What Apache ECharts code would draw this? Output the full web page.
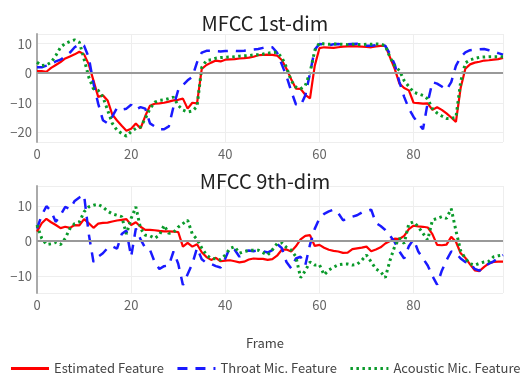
<!DOCTYPE html>
<html>
<head>
<meta charset="utf-8">
<script src="https://cdn.jsdelivr.net/npm/echarts@6/dist/echarts.min.js"></script>
<style>
html,body{margin:0;padding:0;background:#fff;}
#container{width:530px;height:379px;}
</style>
</head>
<body>
<div id="container"></div>
<script>
// MFCC 1st-dim (top panel)
var est1=[0.7,0.7,0.5,1.8,2.8,3.8,5.0,5.7,6.4,7.3,
  6.4,3.0,-2.5,-8.0,-7.5,-9.2,-14.0,-16.0,-17.8,-19.5,
  -18.8,-17.0,-18.7,-14.5,-11.0,-10.3,-10.2,-10.0,-9.6,-9.2,
  -9.0,-8.6,-12.0,-10.0,-10.2,1.5,2.8,3.6,4.3,4.0,
  4.6,4.7,4.8,5.0,5.1,5.3,5.6,6.1,6.2,6.3,
  6.2,6.0,4.5,1.5,-2.0,-5.2,-5.3,-7.3,-8.5,2.5,
  8.5,8.8,8.7,8.6,8.8,9.0,9.1,9.2,9.1,9.0,
  8.9,8.8,9.1,9.3,9.3,5.4,1.5,-3.5,-5.0,-5.8,
  -10.0,-10.1,-10.3,-10.2,-12.4,-11.5,-12.4,-13.6,-15.0,-16.5,
  -5.0,1.5,3.0,3.6,3.9,4.3,4.4,4.6,4.8,5.2];
var thr1=[2.0,2.0,2.6,3.3,4.0,4.6,5.8,7.0,8.8,9.8,
  9.3,5.4,-3.5,-10.3,-15.9,-17.0,-14.6,-11.8,-12.3,-12.0,
  -10.7,-12.3,-11.5,-12.0,-17.0,-18.0,-19.0,-19.0,-18.0,-11.3,
  -5.7,-4.0,-2.4,-1.2,3.7,7.0,7.6,7.6,7.5,7.4,
  7.5,7.6,7.6,7.5,7.6,7.8,8.0,8.2,8.6,9.0,
  8.8,7.0,3.0,-1.0,-6.0,-10.5,-11.0,-7.5,0.0,8.0,
  9.9,9.7,9.5,9.8,9.9,9.7,9.8,9.9,10.0,9.7,
  9.3,9.3,9.5,9.4,9.3,6.5,3.0,-3.0,-8.0,-12.0,
  -14.8,-17.0,-19.0,-10.0,-3.0,-3.5,-4.5,-5.6,-3.0,2.5,
  5.5,7.1,7.8,8.0,8.1,8.2,7.8,7.4,6.8,6.3];
var aco1=[3.7,2.6,2.8,3.7,6.0,8.8,10.1,10.8,11.3,10.5,
  4.8,-1.3,-5.3,-5.8,-8.0,-12.5,-17.0,-19.3,-20.4,-21.3,
  -19.8,-18.7,-18.2,-15.4,-12.0,-9.8,-9.2,-9.0,-8.6,-8.1,
  -10.9,-12.5,-13.1,-12.8,-11.3,2.0,4.3,4.6,5.1,5.3,
  5.4,5.5,5.6,5.8,5.9,6.0,6.2,6.3,6.5,6.8,
  7.0,7.1,5.4,2.0,-2.5,-4.7,-5.3,-4.2,0.3,7.6,
  10.3,9.9,9.8,9.9,9.9,9.8,9.7,9.8,9.7,9.7,
  9.8,9.8,9.9,9.9,9.3,5.4,2.5,0.9,-2.5,-4.5,
  -6.4,-7.0,-7.5,-8.7,-12.0,-13.5,-14.5,-15.3,-15.3,-15.0,
  -3.0,3.5,4.5,5.0,5.4,5.5,5.6,5.6,5.6,5.6];

// MFCC 9th-dim (bottom panel)
var est9=[2.7,5.1,6.4,5.4,4.6,3.7,4.1,3.8,4.6,4.5,
  6.3,5.1,3.8,5.0,5.2,5.3,5.6,5.9,6.1,6.3,
  4.6,5.4,4.1,3.2,3.2,3.1,2.9,2.8,2.8,2.7,
  2.6,-1.6,-0.5,-1.6,-0.9,-3.2,-4.6,-5.4,-4.8,-5.8,
  -5.6,-5.5,-5.8,-6.1,-5.9,-5.3,-5.0,-5.1,-5.1,-5.4,
  -5.2,-4.2,-2.5,-2.4,-3.0,-1.5,0.5,1.5,1.7,-1.4,
  -1.1,-1.9,-2.5,-2.8,-3.0,-3.4,-3.3,-2.3,-2.1,-1.9,
  -1.6,-2.9,-2.4,-1.8,-0.7,0.0,0.7,0.6,1.5,3.4,
  4.4,4.2,4.1,3.9,2.0,-1.1,-1.2,-1.0,1.2,-0.2,
  -3.5,-4.8,-6.7,-8.4,-8.6,-7.4,-6.4,-6.0,-5.9,-5.9];
var thr9=[3.6,7.4,10.0,8.6,5.5,7.5,9.8,9.2,11.5,12.5,
  13.2,2.0,-6.0,-4.5,-3.5,-2.0,-1.5,-2.2,2.0,3.0,
  -4.5,3.6,0.5,-2.0,-2.5,-6.0,-8.0,-7.2,-7.0,-3.0,
  -6.5,-12.6,-9.5,-6.5,-2.0,-5.2,-6.3,-6.6,-7.2,-7.6,
  -5.0,-1.8,-2.5,-4.5,-3.0,-2.7,-2.9,-2.7,-2.9,-3.3,
  -2.6,-0.8,-2.0,-6.0,-7.8,-5.0,-4.5,-6.9,-1.0,3.5,
  6.5,7.8,8.5,9.0,8.0,6.0,6.3,7.0,7.4,8.2,
  8.6,9.0,5.2,4.3,3.2,1.5,-0.3,-3.0,-5.0,-1.5,
  0.5,-3.0,-5.0,-7.0,-10.0,-12.5,-8.5,-5.5,-3.0,-3.5,
  -5.0,-6.0,-6.3,-8.0,-8.5,-7.3,-6.5,-5.8,-4.8,-4.0];
var aco9=[4.6,0.8,-1.0,-0.8,-0.4,-1.0,0.8,3.6,5.0,5.5,
  8.4,9.8,10.3,10.5,9.8,8.6,7.8,7.4,7.0,2.0,
  6.5,9.8,3.6,1.7,1.5,0.8,1.7,4.5,2.2,2.5,
  4.0,5.0,6.0,2.0,0.5,-2.0,-4.0,-5.0,-5.1,-5.4,
  -4.0,-2.1,-1.6,-3.5,-3.0,-2.7,-2.6,-2.6,-3.3,-4.0,
  -2.5,-0.7,-0.5,-1.8,-2.6,-4.5,-10.5,-8.5,-6.0,-6.9,
  -6.8,-9.7,-8.3,-7.5,-6.8,-6.6,-6.6,-6.9,-6.7,-5.5,
  -4.0,-6.0,-8.0,-8.8,-10.5,-5.5,-1.5,0.8,-0.7,5.0,
  5.5,4.1,2.2,0.3,6.0,6.5,7.0,6.5,9.3,3.0,
  -2.8,-5.0,-6.5,-6.9,-6.4,-6.0,-5.8,-4.5,-4.2,-4.0];

var names=['Estimated Feature','Throat Mic. Feature','Acoustic Mic. Feature'];
var colors=['#ff0000','#1a1aff','#0a9a2a'];
var font='"Noto Sans CJK JP", "Noto Sans", sans-serif';

function pairs(arr){
    var out=[];
    for(var i=0;i<arr.length;i++){ out.push([i,arr[i]]); }
    return out;
}

function mk(name,idx,arr,k){
    var s={
        name:name,
        type:'line',
        xAxisIndex:idx,
        yAxisIndex:idx,
        symbol:'none',
        showSymbol:false,
        animation:false,
        data:pairs(arr),
        lineStyle:{color:colors[k],width:k===0?2.2:2.5},
        itemStyle:{color:colors[k]}
    };
    if(k===1){ s.lineStyle.type=[10,8]; }
    if(k===2){ s.lineStyle.type=[2.5,3.5]; s.lineStyle.width=3; }
    if(k===0){
        s.markLine={
            silent:true,symbol:'none',animation:false,
            label:{show:false},
            lineStyle:{color:'#999',type:'solid',width:2},
            data:[{yAxis:0}]
        };
    }
    return s;
}

function xAx(idx){
    return {
        type:'value',gridIndex:idx,min:0,max:99,interval:20,
        axisLine:{show:false},axisTick:{show:false},
        axisLabel:{color:'#666',fontSize:13,fontFamily:font,margin:6,showMaxLabel:false},
        splitLine:{show:true,lineStyle:{color:'#eeeeee',width:1}}
    };
}
function yAx(idx,mn,mx){
    return {
        type:'value',gridIndex:idx,min:mn,max:mx,splitNumber:4,
        axisLine:{show:true,lineStyle:{color:'#aaa',width:2}},
        axisTick:{show:false},
        axisLabel:{color:'#666',fontSize:13,fontFamily:font,margin:5,
            showMinLabel:false,showMaxLabel:false,
            formatter:function(v){ return String(v).replace('-','\u2212'); }},
        splitLine:{show:true,lineStyle:{color:'#eeeeee',width:1}}
    };
}

var chart=echarts.init(document.getElementById('container'),null,{renderer:'canvas'});
var option={
    backgroundColor:'#fff',
    animation:false,
    title:[
        {text:'MFCC 1st-dim',left:'center',top:8,textStyle:{fontFamily:font,fontSize:20,fontWeight:'normal',color:'#222'}},
        {text:'MFCC 9th-dim',left:'center',top:166,textStyle:{fontFamily:font,fontSize:20,fontWeight:'normal',color:'#222'}},
        {text:'Frame',left:'center',top:332,textStyle:{fontFamily:font,fontSize:13,fontWeight:'normal',color:'#444'}}
    ],
    legend:{
        data:names,
        bottom:-1,left:'center',
        itemWidth:38,itemHeight:12,itemGap:12,
        itemStyle:{opacity:0},
        lineStyle:{width:3},
        textStyle:{fontFamily:font,fontSize:13,color:'#444'}
    },
    grid:[
        {left:37,right:27,top:34,height:108},
        {left:37,right:27,top:186,height:107}
    ],
    xAxis:[xAx(0),xAx(1)],
    yAxis:[yAx(0,-23.3,13.3),yAx(1,-14.9,15.8)],
    series:[
        mk(names[0],0,est1,0),mk(names[1],0,thr1,1),mk(names[2],0,aco1,2),
        mk(names[0],1,est9,0),mk(names[1],1,thr9,1),mk(names[2],1,aco9,2)
    ]
};
chart.setOption(option);
</script>
</body>
</html>
